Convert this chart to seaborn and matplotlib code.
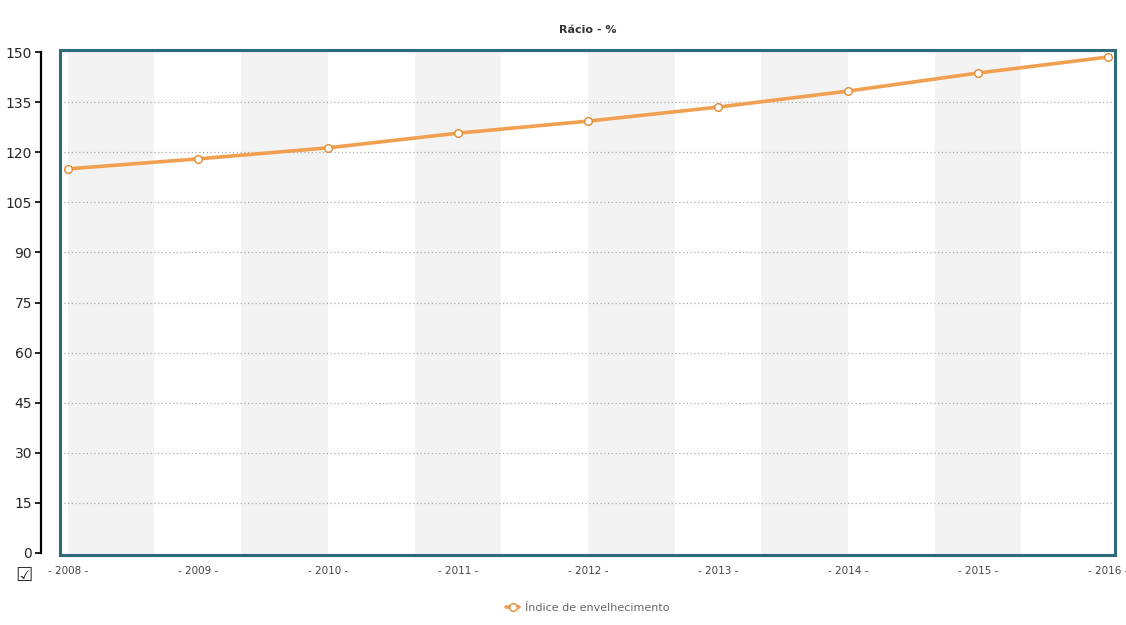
import matplotlib
matplotlib.use("Agg")
import matplotlib.pyplot as plt
import matplotlib.patches as mpatches
import seaborn as sns
import pandas as pd

years = [2008, 2009, 2010, 2011, 2012, 2013, 2014, 2015, 2016]
indice = [115.0, 118.0, 121.3, 125.7, 129.3, 133.5, 138.3, 143.7, 148.5]
y_ticks = [0, 15, 30, 45, 60, 75, 90, 105, 120, 135, 150]
x_labels = ["- %d -" % y for y in years]
serie = "Índice de envelhecimento"

df = pd.DataFrame({"ano": years, "valor": indice})

sns.set_style("white")
plt.rcParams['font.family'] = ['DejaVu Sans']

fig = plt.figure(figsize=(11.26, 6.25), dpi=100)
ax = fig.add_axes([0.0533, 0.112, 0.937, 0.808])

# alternating vertical bands
band = 2 / 3
i = 0
x0 = years[0]
while x0 < years[-1] - 0.01:
    if i % 2 == 0:
        ax.axvspan(x0, x0 + band, color="#f3f3f3", lw=0, zorder=0)
    x0 += band
    i += 1

for t in y_ticks[1:-1]:
    ax.axhline(t, color="#aaaaaa", lw=0.9, ls=(0, (1, 2)), zorder=1)

sns.lineplot(data=df, x="ano", y="valor", ax=ax, color="#f0a050", lw=2.6,
             marker="o", markersize=5.5, markerfacecolor="white",
             markeredgecolor="#e08a30", markeredgewidth=1.0, zorder=3,
             label=serie)

ax.set_xlim(2007.94, 2016.055)
ax.set_ylim(-0.6, 150.6)
ax.set_xticks(years)
ax.set_xticklabels(x_labels, fontsize=7.5, color="#444444")
ax.set_yticks(y_ticks)
ax.set_yticklabels([str(t) for t in y_ticks], fontsize=7.5, color="#444444")
ax.set_xlabel("")
ax.set_ylabel("")

for s in ["top", "right", "bottom"]:
    ax.spines[s].set_visible(False)
ax.spines["left"].set_position(("outward", 14))
ax.spines["left"].set_bounds(0, 150)
ax.spines["left"].set_color("black")
ax.spines["left"].set_linewidth(1.6)
ax.tick_params(axis="y", length=4, width=1.2, color="black", pad=2, left=True)
ax.tick_params(axis="x", length=0, pad=8)

frame = mpatches.Rectangle((0, 0), 1, 1, transform=ax.transAxes, fill=False,
                           edgecolor="#2e6b7a", lw=2.2, zorder=5, clip_on=False)
ax.add_patch(frame)

ax.set_title("Rácio - %", fontsize=8, fontweight="bold", color="#333333", pad=12)

leg = ax.legend(loc="upper center", bbox_to_anchor=(0.5, -0.075), frameon=False,
                fontsize=8, handlelength=1.2, handletextpad=0.5)
for t in leg.get_texts():
    t.set_color("#666666")

fig.text(0.014, 0.07, "☑", fontsize=14, color="#333333")

fig.savefig("out.png", dpi=100)
